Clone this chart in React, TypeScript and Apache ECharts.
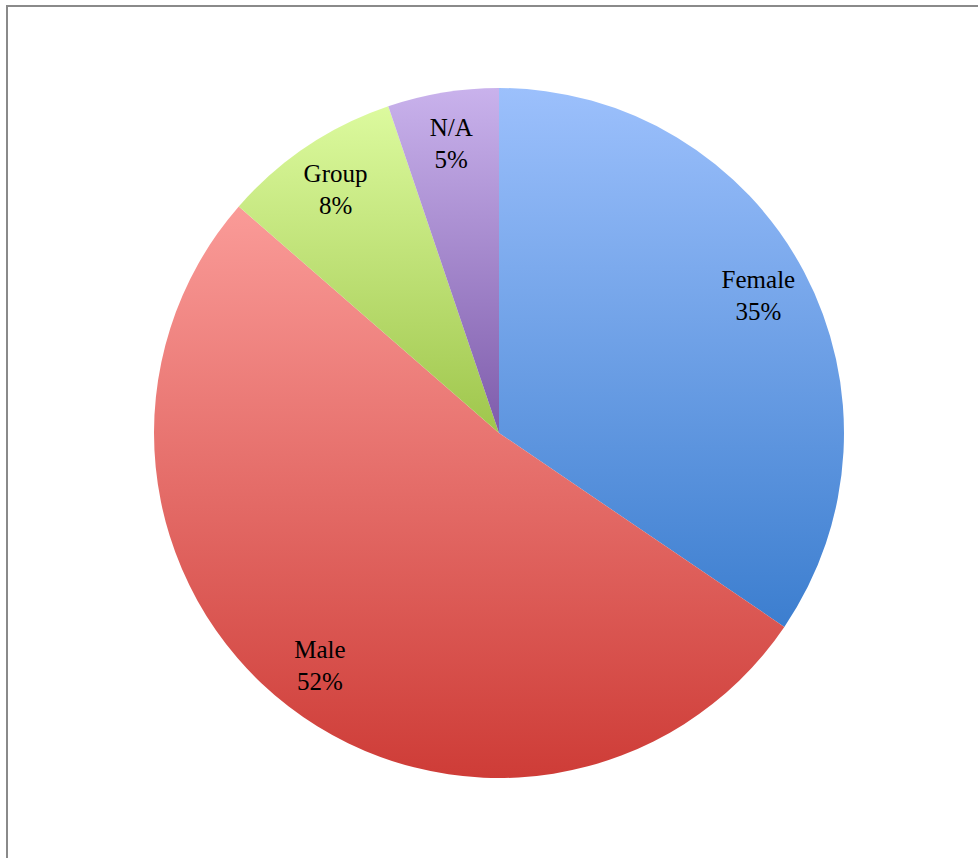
import React, { useEffect, useRef } from "react";
import * as echarts from "echarts";

const categories = ["Female", "Male", "Group", "N/A"];
const values = [34.5, 51.9, 8.4, 5.2];
const topColors = ["#9CC0FC", "#FA9B98", "#DCFA9E", "#C9B2EC"];
const bottomColors = ["#3C7ECF", "#CE3C37", "#9FC64C", "#7E5CAB"];

export default function App() {
  const ref = useRef<HTMLDivElement>(null);
  useEffect(() => {
    if (!ref.current) return;
    const chart = echarts.init(ref.current, null, { renderer: "svg" });
    const data = categories.map((name, i) => ({
      name,
      value: values[i],
      itemStyle: {
        color: new echarts.graphic.LinearGradient(0, 0, 0, 1, [
          { offset: 0, color: topColors[i] },
          { offset: 1, color: bottomColors[i] },
        ]),
      },
    }));
    chart.setOption({
      animation: false,
      backgroundColor: "#ffffff",
      graphic: [
        {
          type: "rect",
          shape: { x: 7, y: 6, width: 1000, height: 900 },
          style: { fill: "none", stroke: "#8a8a8a", lineWidth: 2 },
          silent: true,
        },
      ],
      series: [
        {
          type: "pie",
          center: [499, 433],
          radius: [0, 345],
          startAngle: 90,
          clockwise: true,
          label: { show: false },
          labelLine: { show: false },
          itemStyle: { borderWidth: 0 },
          emphasis: { disabled: true },
          data,
        },
        {
          type: "pie",
          center: [499, 433],
          radius: [236, 345],
          startAngle: 90,
          clockwise: true,
          silent: true,
          itemStyle: { color: "rgba(0,0,0,0)", borderWidth: 0 },
          label: {
            show: true,
            position: "inside",
            fontFamily: "'Liberation Serif', 'DejaVu Serif', serif",
            fontSize: 25,
            lineHeight: 32,
            color: "#000000",
            formatter: (p: any) => `${p.name}\n${Math.round(p.percent)}%`,
          },
          labelLine: { show: false },
          emphasis: { disabled: true },
          data: categories.map((name, i) => ({ name, value: values[i] })),
        },
      ],
    });
    return () => chart.dispose();
  }, []);
  return (
    <div
      ref={ref}
      style={{ position: "fixed", left: 0, top: 0, width: 978, height: 858 }}
    />
  );
}
